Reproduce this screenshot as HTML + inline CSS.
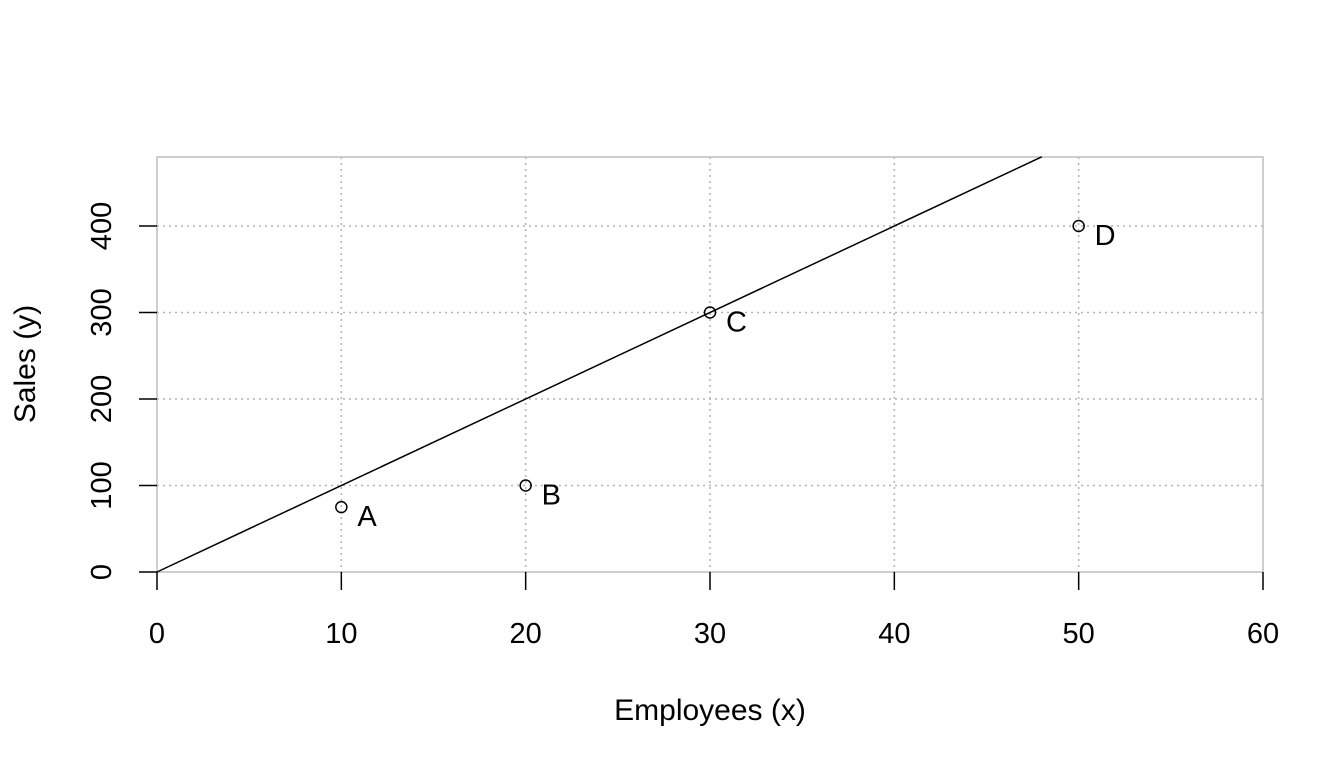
<!DOCTYPE html>
<html><head><meta charset="utf-8"><style>body{margin:0;background:#fff}svg{display:block;font-family:"Liberation Sans",Arial,sans-serif}</style></head>
<body>
<svg id="c" width="1344" height="768"></svg>
<script>
const xTicks=[0,10,20,30,40,50,60];
const yTicks=[0,100,200,300,400];
const names=["A","B","C","D"];
const xVals=[10,20,30,50];
const yVals=[75,100,300,400];
const slope=10;
const L=157,R=1263,T=157,B=572;
const X=v=>L+(v-0)/60*(R-L);
const Y=v=>B-v*(B-226)/400;
const NS="http://www.w3.org/2000/svg";
const svg=document.getElementById('c');
function mk(t,a,txt){const e=document.createElementNS(NS,t);for(const k in a)e.setAttribute(k,a[k]);if(txt!==undefined)e.textContent=txt;svg.appendChild(e);return e;}
xTicks.slice(1,-1).forEach(v=>{const e=mk('line',{x1:X(v),x2:X(v),y1:T,y2:B,stroke:'#b3b3b3','stroke-width':1.5,'stroke-dasharray':'2,4'});

});
yTicks.slice(1).forEach(v=>{const e=mk('line',{x1:L,x2:R,y1:Y(v),y2:Y(v),stroke:'#b3b3b3','stroke-width':1.5,'stroke-dasharray':'2,4'});

});
const box=mk('rect',{x:L,y:T,width:R-L,height:B-T,fill:'none',stroke:'#bebebe','stroke-width':1.5});


xTicks.forEach(v=>{const t=mk('line',{x1:X(v),x2:X(v),y1:B,y2:B+18,stroke:'#000','stroke-width':1.5});


const l=mk('text',{x:X(v),y:643,'text-anchor':'middle','font-size':29},String(v));

});
yTicks.forEach(v=>{const t=mk('line',{x1:L-18,x2:L,y1:Y(v),y2:Y(v),stroke:'#000','stroke-width':1.5});


const l=mk('text',{x:0,y:0,'text-anchor':'middle','font-size':29,transform:`translate(111,${Y(v)}) rotate(-90)`},String(v));

});
const xEnd=Math.min(60,480/slope);
const ln=mk('line',{x1:X(0),y1:Y(0),x2:X(xEnd),y2:Y(slope*xEnd),stroke:'#000','stroke-width':1.5});


xVals.forEach((v,i)=>{const c=mk('circle',{cx:X(v),cy:Y(yVals[i]),r:5.5,fill:'none',stroke:'#000','stroke-width':1.5});


const t=mk('text',{x:X(v)+16,y:Y(yVals[i])+19,'font-size':29},names[i]);

});
const xt=mk('text',{x:710,y:720,'text-anchor':'middle','font-size':30},'Employees (x)');


const yt=mk('text',{x:0,y:0,'text-anchor':'middle','font-size':30,transform:'translate(35,364) rotate(-90)'},'Sales (y)');


</script>
</body></html>
